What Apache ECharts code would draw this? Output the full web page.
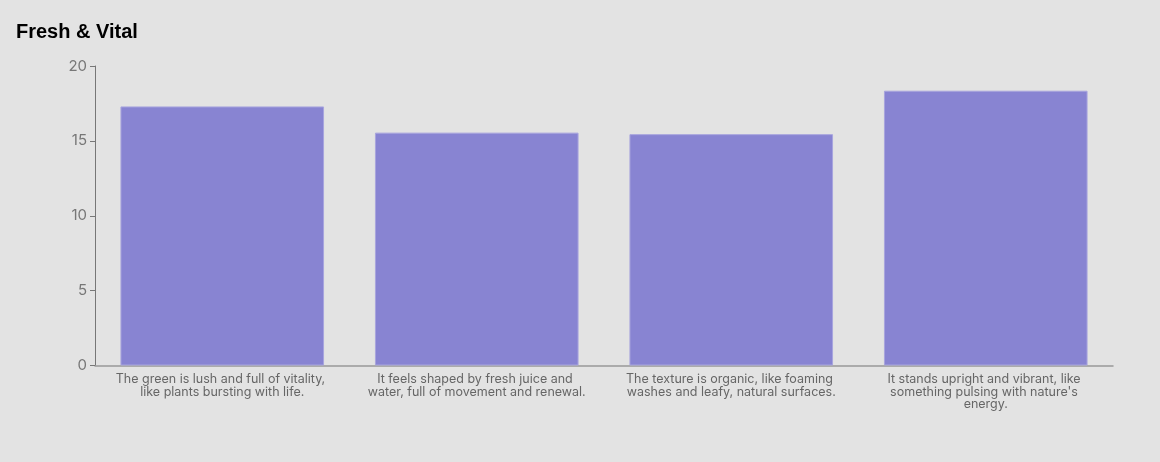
<!DOCTYPE html>
<html>
<head>
<meta charset="utf-8">
<script src="https://cdn.jsdelivr.net/npm/echarts@6/dist/echarts.min.js"></script>
<style>
html,body{margin:0;padding:0;background:#e3e3e3;}
#chart{width:1160px;height:462px;}
</style>
</head>
<body>
<div id="chart"></div>
<script>
const categories = [
  "The green is lush and full of vitality, like plants bursting with life.",
  "It feels shaped by fresh juice and water, full of movement and renewal.",
  "The texture is organic, like foaming washes and leafy, natural surfaces.",
  "It stands upright and vibrant, like something pulsing with nature's energy."
];
const values = [17.3, 15.55, 15.45, 18.35];
const yTicks = [0, 5, 10, 15, 20];

const chart = echarts.init(document.getElementById('chart'));
chart.setOption({
  backgroundColor: '#e3e3e3',
  animation: false,
  title: {
    text: 'Fresh & Vital',
    left: 11, top: 17,
    textStyle: {fontFamily: 'Liberation Sans', fontWeight: 'bold', fontSize: 20, color: '#000'}
  },
  grid: {left: 95, right: 47, top: 66, bottom: 96.5, containLabel: false},
  xAxis: {
    type: 'category',
    data: categories,
    axisLine: {lineStyle: {color: '#999', width: 1.5}},
    axisTick: {alignWithLabel: true, length: 5, lineStyle: {color: '#888'}},
    axisLabel: {
      interval: 0, margin: 8, width: 222, overflow: 'break',
      fontFamily: 'Inter', fontSize: 12.5, lineHeight: 12.3, color: '#666', align: 'center'
    }
  },
  yAxis: {
    type: 'value', min: yTicks[0], max: yTicks[yTicks.length - 1], interval: 5,
    splitLine: {show: false},
    axisLine: {show: true, lineStyle: {color: '#777', width: 1}},
    axisTick: {show: true, length: 5, lineStyle: {color: '#777'}},
    axisLabel: {fontFamily: 'Inter', fontSize: 15, color: '#777', margin: 8}
  },
  series: [{
    type: 'bar',
    data: values,
    barCategoryGap: '20%',
    itemStyle: {color: '#8884d2', borderColor: '#a8a5de', borderWidth: 1}
  }]
});
</script>
</body>
</html>
